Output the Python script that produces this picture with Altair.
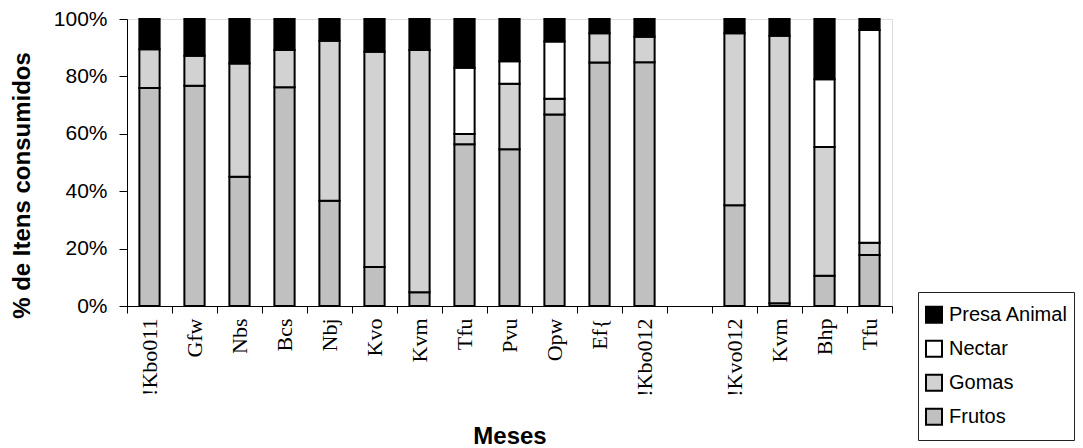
import json
import altair as alt
import pandas as pd

# ---- data ----
meses = ["!Kbo011", "Gfw", "Nbs", "Bcs", "Nbj", "Kvo", "Kvm", "Tfu", "Pvu",
         "Opw", "Ef{", "!Kbo012", "", "!Kvo012", "Kvm", "Bhp", "Tfu"]
frutos = [76.0, 76.7, 45.0, 76.2, 36.7, 13.6, 4.8, 56.4, 54.6, 66.7, 84.8, 84.9,
          None, 35.1, 1.0, 10.5, 17.8]
gomas = [13.5, 10.5, 39.5, 13.0, 55.7, 75.0, 84.4, 3.5, 22.8, 5.5, 10.2, 8.9,
         None, 59.9, 93.2, 44.9, 4.2]
nectar = [0.0, 0.0, 0.0, 0.0, 0.0, 0.0, 0.0, 23.1, 7.9, 20.0, 0.0, 0.0,
          None, 0.0, 0.0, 23.6, 74.2]
presa = [10.5, 12.8, 15.5, 10.8, 7.6, 11.4, 10.8, 17.0, 14.7, 7.8, 5.0, 6.2,
         None, 5.0, 5.8, 21.0, 3.8]

itens = ["Presa Animal", "Nectar", "Gomas", "Frutos"]
cores = ["#000000", "#ffffff", "#d2d2d2", "#c0c0c0"]
empilhamento = {"Frutos": 0, "Gomas": 1, "Nectar": 2, "Presa Animal": 3}
series = {"Frutos": frutos, "Gomas": gomas, "Nectar": nectar, "Presa Animal": presa}

keys = [f"{i:02d}" for i in range(len(meses))]
rows = []
for item, vals in series.items():
    for k, v in zip(keys, vals):
        if v is None or v == 0:
            continue
        rows.append({"key": k, "item": item, "valor": v, "ordem": empilhamento[item]})
df = pd.DataFrame(rows)

label_expr = json.dumps(meses) + "[toNumber(datum.value)]"

W, H = 765, 287

chart = alt.Chart(df).mark_bar(
    width={"band": 0.45}, stroke="black", strokeWidth=2
).encode(
    x=alt.X("key:N", scale=alt.Scale(domain=keys, paddingInner=0, paddingOuter=0),
            axis=alt.Axis(title="Meses", labelExpr=label_expr, labelAngle=270,
                          labelFont="Liberation Serif", labelFontSize=22,
                          labelColor="black", labelPadding=5, tickBand="extent",
                          tickSize=7, tickColor="black", domainColor="black",
                          titleFont="Liberation Sans", titleFontSize=24,
                          titleFontWeight="bold", titleColor="black",
                          titleY=137, titleBaseline="alphabetic")),
    y=alt.Y("valor:Q", stack="normalize",
            scale=alt.Scale(domain=[0, 1]),
            axis=alt.Axis(title="% de Itens consumidos", format=".0%",
                          values=[0, 0.2, 0.4, 0.6, 0.8, 1.0], grid=False,
                          labelFont="Liberation Sans", labelFontSize=21,
                          labelColor="black", labelPadding=12, tickSize=8,
                          tickColor="black", domainColor="black",
                          titleFont="Liberation Sans", titleFontSize=24,
                          titleFontWeight="bold", titleColor="black",
                          titleX=-93, titleY=166)),
    color=alt.Color("item:N", scale=alt.Scale(domain=itens, range=cores),
                    legend=alt.Legend(title=None, orient="none", legendX=791,
                                      legendY=273, symbolType="square",
                                      symbolSize=256, symbolStrokeColor="black",
                                      symbolStrokeWidth=2, labelFont="Liberation Sans",
                                      labelFontSize=20, labelColor="black",
                                      labelOffset=5, clipHeight=33.5, rowPadding=0,
                                      padding=6, strokeColor="#222222",
                                      fillColor="white", labelLimit=300)),
    order=alt.Order("ordem:Q", sort="ascending"),
).properties(
    width=W, height=H, autosize="none",
    padding={"left": 119, "top": 11, "right": 183, "bottom": 160},
).configure_view(stroke=None).configure(background="white")

chart.save("out.html", embed_options={"renderer": "svg", "actions": False})
